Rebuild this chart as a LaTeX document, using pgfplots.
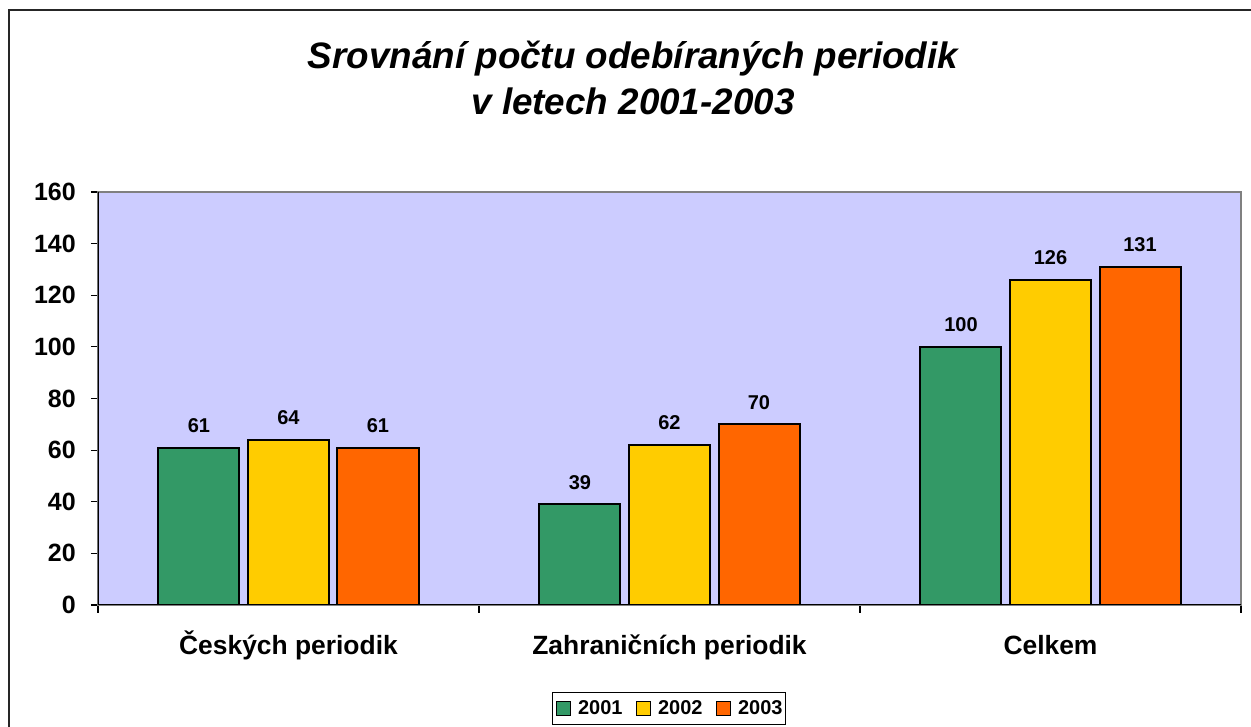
\documentclass[border=0pt]{standalone}
\usepackage{fontspec}
\setmainfont{Liberation Sans}
\usepackage{pgfplots}
\pgfplotsset{compat=1.18}
\definecolor{plotbg}{HTML}{CCCCFF}
\definecolor{cA}{HTML}{339966}
\definecolor{cB}{HTML}{FFCC00}
\definecolor{cC}{HTML}{FF6600}
\begin{document}
\begin{tikzpicture}[x=1pt,y=1pt]
\path[use as bounding box] (-98,-122) rectangle (1153,605);
\draw[line width=2pt, black!85] (-89,-140) rectangle (1175,595);
\node[font=\fontsize{36.8}{40}\selectfont\bfseries\itshape, anchor=base, inner sep=0pt] at (535,536) {Srovnání počtu odebíraných periodik};
\node[font=\fontsize{36.8}{40}\selectfont\bfseries\itshape, anchor=base, inner sep=0pt] at (535,490) {v letech 2001-2003};
\begin{axis}[
  at={(0,0)}, anchor=south west,
  scale only axis, width=1143pt, height=413pt,
  xmin=-0.5, xmax=2.5, ymin=0, ymax=160,
  ybar=8.5pt, bar width=81pt,
  xtick={0,1,2},
  xticklabels={Českých periodik, Zahraničních periodik, Celkem},
  minor xtick={-0.5,0.5,1.5,2.5},
  xtick pos=bottom, ytick pos=left,
  ytick={0,20,...,160},
  tick align=outside, major tick length=7pt, minor tick length=8pt,
  tick style={black, line width=1.2pt},
  every major x tick/.append style={draw=none},
  axis background/.style={fill=plotbg},
  axis line style={draw=gray, line width=2pt},
  /pgf/number format/assume math mode=true,
  yticklabel style={font=\fontsize{25}{30}\selectfont\bfseries, inner sep=0pt, xshift=-15pt},
  xticklabel style={font=\fontsize{26.4}{30}\selectfont\bfseries, inner sep=0pt, anchor=base, yshift=-43pt},
  nodes near coords,
  every node near coord/.append style={font=\fontsize{20}{24}\selectfont\bfseries, anchor=base, inner sep=0pt, yshift=15pt, black},
  legend columns=3,
  legend style={at={(0.4996,-0.2506)}, anchor=center, draw=black, line width=1pt,
    font=\fontsize{20}{24}\selectfont\bfseries, inner xsep=3pt, inner ysep=8pt,
    nodes={inner sep=0pt},
    /tikz/every odd column/.append style={column sep=7pt},
    /tikz/every even column/.append style={column sep=13pt}},
  legend image code/.code={\draw[#1, line width=1.5pt] (0pt,-7pt) rectangle (14pt,7pt);},
]
\addplot[fill=cA, draw=black, line width=2pt] coordinates {(0,61) (1,39) (2,100)};
\addplot[fill=cB, draw=black, line width=2pt] coordinates {(0,64) (1,62) (2,126)};
\addplot[fill=cC, draw=black, line width=2pt] coordinates {(0,61) (1,70) (2,131)};
\legend{2001,2002,2003}
\draw[black, line width=1.5pt] (rel axis cs:0,1) -- (rel axis cs:0,0) -- (rel axis cs:1,0);
\end{axis}
\end{tikzpicture}
\end{document}
